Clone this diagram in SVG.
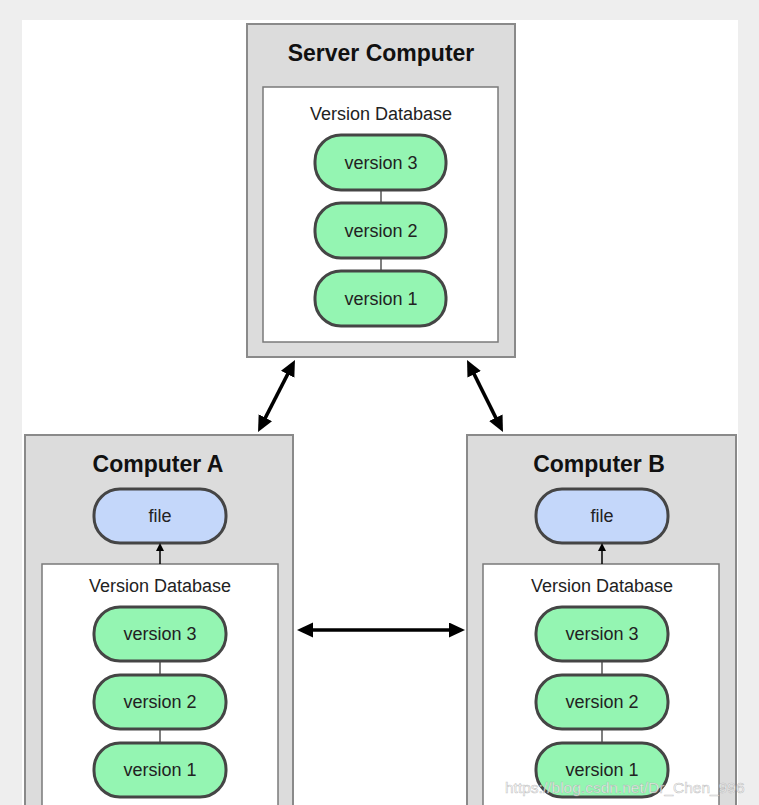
<svg xmlns="http://www.w3.org/2000/svg" width="759" height="805" viewBox="0 0 759 805">
<style>
.comp{fill:#dcdcdc;stroke:#8a8a8a;stroke-width:2}
.db{fill:#ffffff;stroke:#7a7a7a;stroke-width:1.5}
.ver{fill:#94f5b2;stroke:#454545;stroke-width:3}
.file{fill:#c4d7fa;stroke:#454545;stroke-width:3}
.title{font-family:"Liberation Sans",Arial,sans-serif;font-weight:bold;font-size:23px;fill:#111;text-anchor:middle}
.lbl{font-family:"Liberation Sans",Arial,sans-serif;font-size:18px;fill:#222;text-anchor:middle}
.link{stroke:#555;stroke-width:1.5}
.arr{stroke:#000;stroke-width:3.5;fill:none}
</style>
<defs>
<marker id="ah" markerUnits="userSpaceOnUse" markerWidth="17" markerHeight="16" refX="6" refY="7.5" orient="auto-start-reverse" viewBox="0 0 17 16">
<path d="M0,0 L16,7.5 L0,15 z" fill="#000"/>
</marker>
<marker id="sh" markerUnits="userSpaceOnUse" markerWidth="9" markerHeight="9" refX="3" refY="4" orient="auto" viewBox="0 0 9 9">
<path d="M0,0 L8,4 L0,8 z" fill="#000"/>
</marker>
</defs>
<rect x="0" y="0" width="759" height="805" fill="#eeeeee"/>
<rect x="22" y="20" width="716" height="785" fill="#ffffff"/>

<g id="server">
<rect class="comp" x="247" y="24" width="268" height="333"/>
<text class="title" x="381" y="61">Server Computer</text>
<rect class="db" x="263" y="87" width="235" height="255"/>
<text class="lbl" x="381" y="120">Version Database</text>
<line class="link" x1="381" y1="190" x2="381" y2="203"/>
<line class="link" x1="381" y1="258" x2="381" y2="271"/>
<rect class="ver" x="315" y="135" width="131" height="55" rx="26"/>
<text class="lbl" x="381" y="169">version 3</text>
<rect class="ver" x="315" y="203" width="131" height="55" rx="26"/>
<text class="lbl" x="381" y="237">version 2</text>
<rect class="ver" x="315" y="271" width="131" height="55" rx="26"/>
<text class="lbl" x="381" y="305">version 1</text>
</g>

<g id="computerA">
<rect class="comp" x="25" y="435" width="268" height="380"/>
<text class="title" x="158" y="472">Computer A</text>
<rect class="file" x="94" y="489" width="132" height="54" rx="26"/>
<text class="lbl" x="160" y="522">file</text>
<rect class="db" x="42" y="564" width="236" height="260"/>
<text class="lbl" x="160" y="592">Version Database</text>
<line class="link" x1="160" y1="661" x2="160" y2="675"/>
<line class="link" x1="160" y1="729" x2="160" y2="743"/>
<rect class="ver" x="94" y="607" width="132" height="54" rx="26"/>
<text class="lbl" x="160" y="640">version 3</text>
<rect class="ver" x="94" y="675" width="132" height="54" rx="26"/>
<text class="lbl" x="160" y="708">version 2</text>
<rect class="ver" x="94" y="743" width="132" height="54" rx="26"/>
<text class="lbl" x="160" y="776">version 1</text>
</g>

<g id="computerB">
<rect class="comp" x="467" y="435" width="269" height="380"/>
<text class="title" x="599" y="472">Computer B</text>
<rect class="file" x="536" y="489" width="132" height="54" rx="26"/>
<text class="lbl" x="602" y="522">file</text>
<rect class="db" x="483" y="564" width="236" height="260"/>
<text class="lbl" x="602" y="592">Version Database</text>
<line class="link" x1="602" y1="661" x2="602" y2="675"/>
<line class="link" x1="602" y1="729" x2="602" y2="743"/>
<rect class="ver" x="536" y="607" width="132" height="54" rx="26"/>
<text class="lbl" x="602" y="640">version 3</text>
<rect class="ver" x="536" y="675" width="132" height="54" rx="26"/>
<text class="lbl" x="602" y="708">version 2</text>
<rect class="ver" x="536" y="743" width="132" height="54" rx="26"/>
<text class="lbl" x="602" y="776">version 1</text>
</g>

<g id="connectors">
<line class="arr" x1="290.4" y1="368.9" x2="262.6" y2="423.1" marker-start="url(#ah)" marker-end="url(#ah)"/>
<line class="arr" x1="471.5" y1="368.9" x2="498.5" y2="423.1" marker-start="url(#ah)" marker-end="url(#ah)"/>
<line class="arr" x1="307" y1="630" x2="455" y2="630" marker-start="url(#ah)" marker-end="url(#ah)"/>
<line stroke="#000" stroke-width="1.5" x1="160" y1="564" x2="160" y2="548" marker-end="url(#sh)"/>
<line stroke="#000" stroke-width="1.5" x1="602" y1="564" x2="602" y2="548" marker-end="url(#sh)"/>
</g>

<text x="505" y="793" font-family="'Liberation Sans',Arial,sans-serif" font-size="15.5" fill="#ffffff" fill-opacity="0.8" stroke="#9a9a9a" stroke-opacity="0.6" stroke-width="0.6">https://blog.csdn.net/Dr_Chen_996</text>
</svg>
